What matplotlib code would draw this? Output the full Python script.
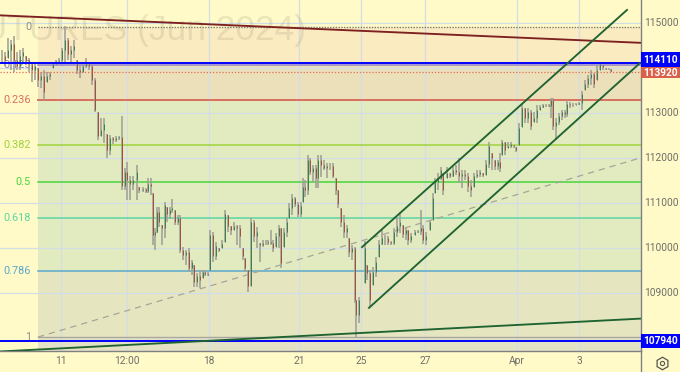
import matplotlib
matplotlib.use("Agg")
import matplotlib.pyplot as plt
import numpy as np

plt.rcParams['font.family'] = ['Roboto', 'DejaVu Sans']

# --- data ---
slots = [2,5,8,11,14,17,20,23,26,29,32,35,38,41,44,47,50,53,56,59,62,65,68,71,74,77,80,83,86,89,92,95,98,101,104,107,110,113,116,119,
         122,125,127,130,133,137,139,143,146,148,151,153,155,157,159,162,165,167,170,172,175,178,180,183,186,189,192,194,197,200,203,205,208,
         210,213,216,219,222,225,228,231,234,237,240,243,245,248,251,254,257,260,263,266,268,271,273,276,279,281,284,287,289,292,295,298,301,
         303,305,308,310,313,316,318,321,324,327,330,333,336,338,341,344,347,349,352,354.5,356,359,365,367,370,373,376,379,382,385,388,391,394,
         397,400,403,406,408,411,415,418,421,423,426,430,433,435,438,441,443,447,450,453,456,459,462,465,468,471,474,477,480,483,486,489,492,
         495,498,500,502,505,508,511,514,516,519,522,525,528,531,534,537,540,543,546,549,551,553,556,559,562,565,567,570,573,576,579,582,585,
         588,591,594,597,600,603,606,609,611]
highs = [114400,114360,114670,114620,114710,114360,114400,114440,114270,114220,114110,114090,114000,113910,113960,113910,113910,114130,114180,114220,
         114440,114930,114670,114490,114620,114180,114040,114090,114220,114130,114090,113780,113020,112890,112890,112530,112510,112470,112490,112490,
         112930,111780,111910,111600,111600,111840,111360,111360,111330,111560,111560,111220,110440,110910,110910,110510,111020,110910,110910,111090,
         110840,110730,110730,110020,109960,110000,109730,109620,109440,109510,109510,109510,109470,
         110400,110360,110130,110000,110180,110840,110730,110490,110580,110510,110510,110000,109780,109510,110670,110620,110470,110110,110180,110180,
         110180,110400,110180,110330,110510,110440,110440,110670,111000,111200,111130,111020,111020,
         111560,111510,112070,112000,111840,111840,112070,112070,111960,111890,111890,111890,111560,111290,110890,110730,110510,110220,110070,110020,
         108850,108910,110160,109620,109510,109580,109800,110180,110400,110290,110270,110160,110440,
         110670,110800,110510,110470,110400,110330,110400,110400,110840,110510,110360,110620,111220,111560,111670,111800,111670,111800,111670,111800,
         111840,112000,111730,111730,111670,111510,111670,111730,111730,111670,111960,112360,112110,
         111960,111960,112110,112400,112360,112360,112360,112290,112250,112780,113220,113110,113110,113070,113020,113180,113180,113200,113200,113200,
         113330,113330,112890,113000,113070,113070,113290,113240,113220,113220,113240,113490,113730,
         113840,113960,113890,114070,114130,114070,114000,114000,113980]
lows = [114130,114040,114220,113960,113910,113960,113960,114130,114070,113910,113690,113730,113580,113560,113290,113690,113730,114000,114090,114110,
        114130,114130,114180,114130,114220,113870,113780,113910,114000,113960,113620,113020,112400,112490,112330,112000,112070,112310,112360,112400,
        111290,111290,111070,111070,111290,111070,111220,111250,111220,111220,111180,110070,109960,110330,110470,110070,110220,110580,110640,110780,
        110510,110510,109890,109730,109620,109470,109400,109130,109130,109110,109330,109380,109380,
        109510,109690,109730,109910,110000,110130,110360,110290,110400,110070,110000,109730,109470,109020,109160,110130,110000,109690,110020,110070,
        110070,110070,109910,110020,110000,109560,110020,110240,110670,110730,110910,110690,110690,
        111020,111130,111180,111620,111470,111330,111330,111580,111730,111560,111730,111560,111180,110890,110470,110220,110220,109800,109730,108780,
        108020,108330,109230,109290,108690,109180,109360,109800,110070,110070,110070,110070,110070,
        110240,110330,110220,110180,110070,110110,110290,110330,110290,110090,110070,110400,110620,111220,111290,111510,111180,111560,111560,111580,
        111620,111450,111330,111510,111250,111130,111360,111560,111580,111580,111620,111780,111730,
        111730,111730,111690,112070,112070,112220,112220,112220,112130,112290,112690,112780,112780,112620,112800,112780,113070,113110,113130,113130,
        112890,112620,112400,112730,112840,112890,112910,113110,113130,113180,113180,113070,113510,
        113560,113620,113560,113730,113960,113960,113960,113960,113910]
closes = [114270,114180,114400,114530,114180,114040,114270,114360,114180,114090,113960,114040,113730,113820,113470,113820,113870,114090,114160,114180,
          114400,114620,114310,114400,114490,113960,113910,114040,114090,114040,113730,113070,112490,112620,112760,112180,112440,112400,112440,112470,
          111380,111690,111510,111420,111510,111690,111290,111310,111270,111420,111380,110290,110360,110800,110580,110440,110960,110760,110840,110890,
          110580,110670,109960,109840,109910,109560,109690,109240,109380,109290,109470,109420,109400,
          110290,109820,110040,109960,110090,110760,110490,110400,110490,110440,110270,109820,109560,109160,110580,110270,110360,110070,110110,110110,
          110130,110110,110000,110270,110440,109670,110360,110580,110890,111110,110980,110760,110930,
          111360,111290,111960,111690,111780,111560,111960,111840,111780,111820,111820,111600,111290,110980,110580,110360,110440,109910,110000,108850,
          108510,108840,110000,109440,108840,109470,109690,110090,110220,110220,110130,110110,110360,
          110490,110580,110310,110400,110180,110270,110360,110380,110440,110180,110270,110580,111110,111470,111560,111730,111290,111670,111600,111730,
          111690,111600,111640,111600,111380,111290,111600,111640,111690,111620,111870,112270,112000,
          111820,111910,111780,112360,112180,112270,112310,112270,112180,112670,113110,112890,113020,112710,112890,113070,113130,113180,113180,113160,
          113290,112710,112800,112930,113020,112980,113200,113180,113180,113200,113220,113420,113640,
          113780,113870,113640,113960,114090,114020,113980,113980,113930]

fib_ratios = [0, 0.125, 0.236, 0.382, 0.5, 0.618, 0.786, 1]
fib_labels = ['0', '0.125', '0.236', '0.382', '0.5', '0.618', '0.786', '1']
fib_colors = ['#9a9a90', '#8f7fd0', '#d9705f', '#9fd43c', '#48d43c', '#5cd6a4', '#5aa8cc', '#a8a8a0']
fib_top, fib_bottom = 114920, 108020

price_ticks = [115000, 114000, 113000, 112000, 111000, 110000, 109000]
price_tick_labels = ['115000', '', '113000', '112000', '111000', '110000', '109000']
time_ticks = [61, 126.5, 209, 299, 361, 425, 517, 579]
time_labels = ['11', '12:00', '18', '21', '25', '27', 'Apr', '3']

level_high, level_low, last_price = 114110, 107940, 113920

resistance = ([0, 640], [115170, 114560])
support = ([0, 640], [107700, 108430])
channel_up = ([362, 627], [110020, 115290])
channel_down = ([369, 640], [108670, 114110])
fib_trend = ([38, 640], [108020, 112000])

# --- figure ---
W, H = 680, 372
BG = '#fffac8'
fig = plt.figure(figsize=(W/100, H/100), dpi=100, facecolor=BG)
ax = fig.add_axes([0, (H-351)/H, 640.5/W, 351/H], facecolor=BG)
ax.set_xlim(0, 640.5)
ax.set_ylim(107711, 115511)
ax.set_xticks([])
ax.set_yticks([])
for s in ax.spines.values():
    s.set_visible(False)
for side in ('right', 'bottom'):
    ax.spines[side].set_visible(True)
    ax.spines[side].set_color('#808080')
    ax.spines[side].set_linewidth(1)

fib_prices = [fib_top - r*(fib_top-fib_bottom) for r in fib_ratios]
FX = 38

# zones
zones = [(0, 1, '#fbebc0'), (1, 2, '#ebe0ba'), (2, 6, '#e2eac0'), (6, 7, '#e5e6c0')]
for a, b, c in zones:
    ax.fill_between([FX, 640.5], fib_prices[a], fib_prices[b], color=c, lw=0, zorder=0)
ax.fill_between([FX, 640.5], fib_bottom, 107711, color='#e3e2c6', lw=0, zorder=0)

# grid
for t in time_ticks:
    ax.axvline(t, color='#d3dde6', lw=0.9, zorder=1)
for p in price_ticks:
    ax.axhline(p, color='#d3dde6', lw=0.9, zorder=1)

# watermark
ax.text(306/640.5, 0.912, 'FUTURES (Jun 2024)', transform=ax.transAxes, ha='right', va='center',
        fontsize=25.5, color='#8a8a70', alpha=0.18, zorder=1, family=['Liberation Sans', 'DejaVu Sans'])

# fib levels
for i, (p, c, lab) in enumerate(zip(fib_prices, fib_colors, fib_labels)):
    if i == 0:
        ax.plot([FX, 640.5], [p, p], color='#7e7e76', lw=1.0, ls=(0, (1, 1)), zorder=2)
    elif i == 7:
        ax.plot([FX, 640.5], [p, p], color=c, lw=1.0, zorder=2)
    else:
        ax.plot([FX, 640.5], [p, p], color=c, lw=1.1 if i != 2 else 1.4, zorder=2)
    ax.text(31, p, lab, color=c if i not in (0, 7) else '#909088', ha='right', va='center', fontsize=7.8, zorder=2)

ax.plot(fib_trend[0], fib_trend[1], color='#a8a498', lw=0.9, ls=(0, (5, 4)), zorder=2)

# candles
slots_a = np.array(slots, float)
highs_a, lows_a, closes_a = map(lambda v: np.array(v, float), (highs, lows, closes))
opens_a = np.r_[closes_a[0], closes_a[:-1]]
opens_a = np.clip(opens_a, lows_a, highs_a)
ax.vlines(slots_a, lows_a, highs_a, color='#a0a096', lw=1.15, zorder=3)
colors = np.where(closes_a >= opens_a, '#3a8050', '#a0503a')
ax.vlines(slots_a, opens_a, closes_a, colors=colors, lw=0.7, zorder=4)

# horizontal levels
ax.axhline(level_high, color='#0000ff', lw=1.4, zorder=5)
ax.axhline(level_low, color='#0000ff', lw=1.4, zorder=5)
ax.axhline(last_price, color='#e0705a', lw=0.9, ls=(0, (1, 1.5)), zorder=5)

# trend lines
ax.plot(*resistance, color='#7d2020', lw=1.35, zorder=6)
ax.plot(*support, color='#1f6330', lw=1.35, zorder=6)
ax.plot(*channel_up, color='#1f6330', lw=1.35, zorder=6)
ax.plot(*channel_down, color='#1f6330', lw=1.35, zorder=6)

# right axis labels
for p, lab in zip(price_ticks, price_tick_labels):
    if lab:
        ax.text(661/640.5, p, lab, transform=ax.get_yaxis_transform(), ha='center', va='center',
                fontsize=7.3, color='#6e6e68', clip_on=False)
for t, lab in zip(time_ticks, time_labels):
    ax.text(t, -10.5/351, lab, transform=ax.get_xaxis_transform(), ha='center', va='center',
            fontsize=7.3, color='#6e6e68', clip_on=False)

# tags
ov = fig.add_axes([0, 0, 1, 1], facecolor='none')
ov.set_xlim(0, W)
ov.set_ylim(H, 0)
ov.axis('off')
tags = [(52, 66.5, '#0000ff', f'{level_high}'), (66.5, 78, '#d9604a', f'{last_price}'), (334, 348, '#0000ff', f'{level_low}')]
for y0, y1, c, lab in tags:
    ov.fill_between([641, 680], y0, y1, color=c, lw=0)
    ov.text(661, (y0+y1)/2+0.3, lab, color='white', fontsize=7.3, fontweight='bold', ha='center', va='center')
ov.plot([640.5, 640.5], [351, 372], color='#808080', lw=1)
ov.plot([662], [363], marker='h', ms=9, mfc='none', mec='#555555', mew=0.9)
ov.plot([662], [363], marker='o', ms=3, mfc='none', mec='#555555', mew=0.8)

fig.savefig('out.png', dpi=100, facecolor=BG)
